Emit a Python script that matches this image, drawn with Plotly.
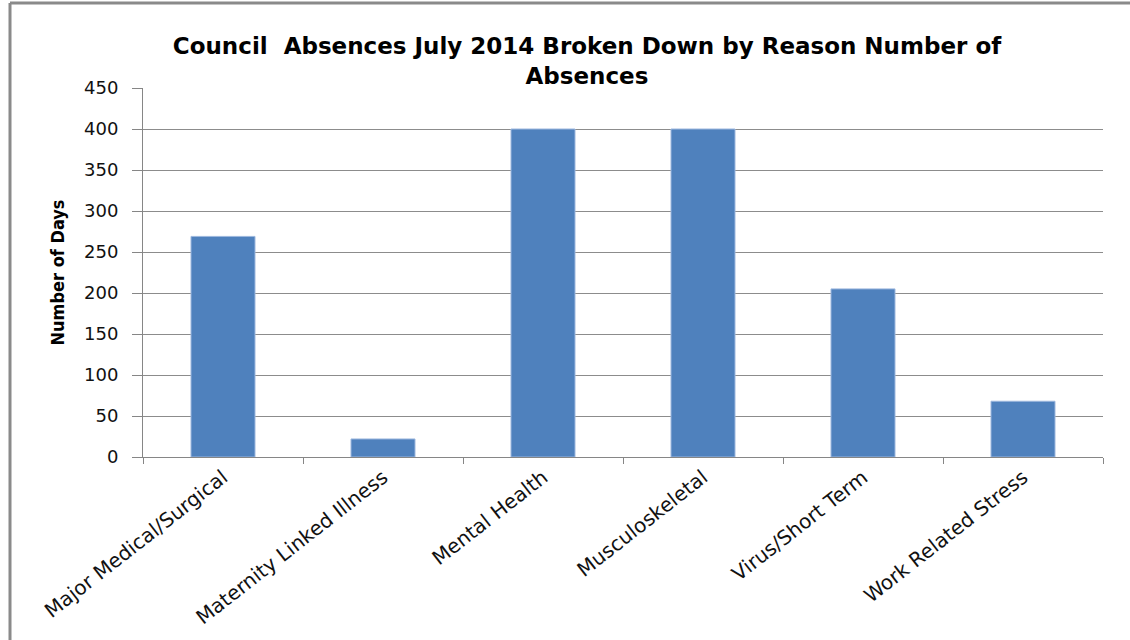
import plotly.graph_objects as go

categories = ["Major Medical/Surgical", "Maternity Linked Illness", "Mental Health",
              "Musculoskeletal", "Virus/Short Term", "Work Related Stress"]
days = [269, 22, 400, 400, 205, 68]
y_ticks = [0, 50, 100, 150, 200, 250, 300, 350, 400, 450]

W, H = 1130, 640
L, R, T, B = 143, 27, 88, 183
pw, ph = W - L - R, H - T - B

fig = go.Figure(go.Bar(
    x=categories, y=days,
    marker=dict(color="#4F81BD", line=dict(color="#9DB7DE", width=1)),
    width=0.4,
))

font_family = "DejaVu Sans, sans-serif"

fig.update_layout(
    width=W, height=H,
    margin=dict(l=L, r=R, t=T, b=B, autoexpand=False),
    paper_bgcolor="white", plot_bgcolor="white",
    showlegend=False,
    title=dict(
        text="<b>Council  Absences July 2014 Broken Down by Reason Number of<br>Absences</b>",
        x=(587) / W, xanchor="center", y=1 - 54 / H, yanchor="middle",
        font=dict(family=font_family, size=23, color="#000000"),
    ),
    xaxis=dict(
        type="category",
        tickangle=-38,
        automargin=False,
        tickfont=dict(family=font_family, size=20, color="#111111"),
        showline=True, linecolor="#868686", linewidth=1,
        ticks="outside", ticklen=6, tickcolor="#868686",
        tickson="boundaries",
        showgrid=False,
        range=[-0.5, 5.5],
    ),
    yaxis=dict(
        range=[0, 450],
        tickvals=y_ticks,
        automargin=False,
        tickfont=dict(family=font_family, size=18, color="#111111"),
        showline=True, linecolor="#868686", linewidth=1,
        ticks="outside", ticklen=10, tickcolor="#868686",
        ticklabelstandoff=10,
        showgrid=True, gridcolor="#8C8C8C", gridwidth=1,
        zeroline=False,
        title=dict(text="<b>Number of Days</b>",
                   font=dict(family="DejaVu Sans Condensed, DejaVu Sans, sans-serif", size=18, color="#000000"),
                   standoff=14),
    ),
    shapes=[
        dict(type="line", xref="paper", yref="paper",
             x0=(10 - L) / pw, x1=(10 - L) / pw, y0=(H - B - 3) / ph, y1=(H - B - H - 5) / ph,
             line=dict(color="#8A8A8A", width=3)),
        dict(type="line", xref="paper", yref="paper",
             x0=(10 - L) / pw, x1=(W + 5 - L) / pw, y0=(H - B - 3) / ph, y1=(H - B - 3) / ph,
             line=dict(color="#8A8A8A", width=3)),
    ],
)

fig.write_html("out.html")
